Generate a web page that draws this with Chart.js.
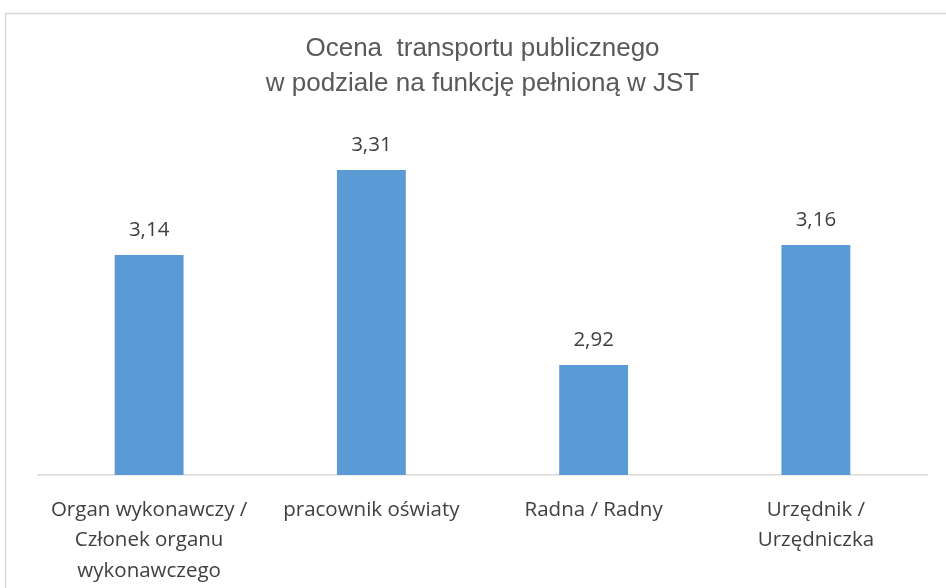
<!DOCTYPE html>
<html>
<head>
<meta charset="utf-8">
<script src="https://cdn.jsdelivr.net/npm/chart.js@4.4.1/dist/chart.umd.min.js"></script>
<style>
  html, body { margin: 0; padding: 0; background: #ffffff; }
  #wrap { width: 946px; height: 588px; position: relative; }
</style>
</head>
<body>
<div id="wrap"><canvas id="BarGraph" width="946" height="588"></canvas></div>
<script>
// chart data
const categories = [
  ["Organ wykonawczy /", "Członek organu", "wykonawczego"],
  "pracownik oświaty",
  "Radna / Radny",
  ["Urzędnik /", "Urzędniczka"]
];
const ratings = [3.14, 3.31, 2.92, 3.16];
const titleLines = ["Ocena  transportu publicznego", "w podziale na funkcję pełnioną w JST"];
const axisMin = 2.7;
const axisMax = 3.4;

// light grey frame around the chart, like the exported Excel chart
const framePlugin = {
  id: "frame",
  beforeDraw(chart) {
    const ctx = chart.ctx;
    ctx.save();
    ctx.fillStyle = "#ffffff";
    ctx.fillRect(0, 0, chart.width, chart.height);
    ctx.strokeStyle = "#d9d9d9";
    ctx.lineWidth = 1.5;
    ctx.strokeRect(5.5, 13.5, 2000, 2000);
    ctx.restore();
  }
};

// value labels above the bars (comma as decimal separator)
const valueLabels = {
  id: "valueLabels",
  afterDatasetsDraw(chart) {
    const ctx = chart.ctx;
    ctx.save();
    ctx.font = "20.5px 'Open Sans'";
    ctx.fillStyle = "#404040";
    ctx.textAlign = "center";
    ctx.textBaseline = "middle";
    chart.data.datasets.forEach(function(dataset, i) {
      const meta = chart.getDatasetMeta(i);
      meta.data.forEach(function(bar, index) {
        const text = dataset.data[index].toFixed(2).replace(".", ",");
        ctx.fillText(text, bar.x, bar.y - 25);
      });
    });
    ctx.restore();
  }
};

const ctx = document.getElementById("BarGraph").getContext("2d");
const barGraph = new Chart(ctx, {
  type: "bar",
  data: {
    labels: categories,
    datasets: [{
      data: ratings,
      backgroundColor: "#5b9bd5",
      borderWidth: 0,
      barPercentage: 0.62,
      categoryPercentage: 0.5
    }]
  },
  options: {
    responsive: false,
    animation: false,
    layout: { padding: { left: 38, right: 19, top: 0, bottom: 0 } },
    plugins: {
      legend: { display: false },
      tooltip: { enabled: false },
      title: {
        display: true,
        text: titleLines,
        color: "#595959",
        font: { family: "'Liberation Sans', Arial, sans-serif", size: 26, weight: "normal", lineHeight: 1.35 },
        padding: { top: 31.5, bottom: 23.3 }
      }
    },
    scales: {
      x: {
        grid: { display: false, drawTicks: false },
        border: { display: true, color: "#d9d9d9", width: 1.5 },
        ticks: {
          color: "#404040",
          font: { family: "'Open Sans'", size: 20.5, lineHeight: 1.5 },
          padding: 19.5,
          maxRotation: 0,
          autoSkip: false
        },
        afterFit(scale) { scale.height = 113; }
      },
      y: {
        display: false,
        min: axisMin,
        max: axisMax
      }
    }
  },
  plugins: [framePlugin, valueLabels]
});
</script>
</body>
</html>
